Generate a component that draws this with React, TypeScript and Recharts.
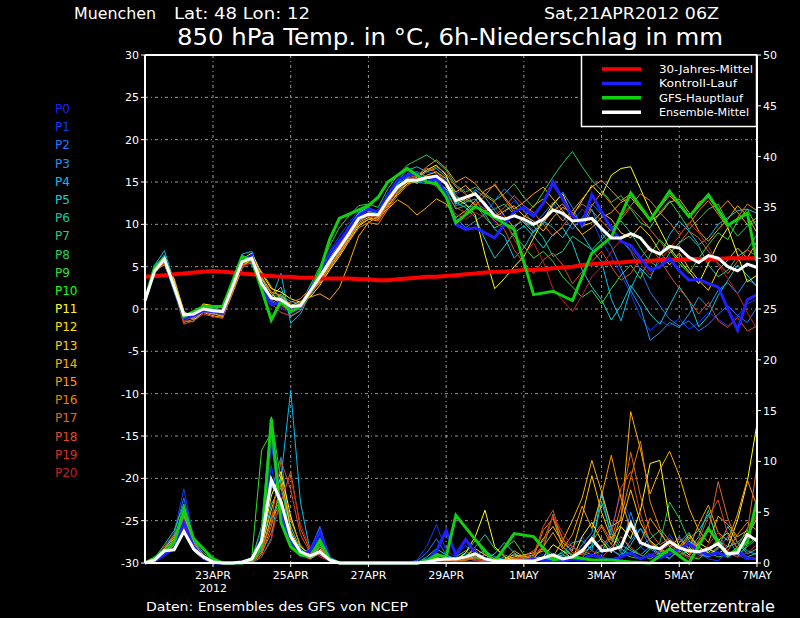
import { ComposedChart, Line, XAxis, YAxis, CartesianGrid, ReferenceLine } from "recharts";

// lead time in hours after 21APR2012 00Z, one point every 6h
const leadHours = [
  6, 12, 18, 24, 30, 36, 42, 48, 54, 60, 66, 72, 78, 84, 90, 96,
  102, 108, 114, 120, 126, 132, 138, 144, 150, 156, 162, 168, 174, 180, 186, 192,
  198, 204, 210, 216, 222, 228, 234, 240, 246, 252, 258, 264, 270, 276, 282, 288,
  294, 300, 306, 312, 318, 324, 330, 336, 342, 348, 354, 360, 366, 372, 378, 384,
];
const dayTicks = [48, 96, 144, 192, 240, 288, 336, 384];
const dayLabels = ["23APR", "25APR", "27APR", "29APR", "1MAY", "3MAY", "5MAY", "7MAY"];
const tempTicks = [-30, -25, -20, -15, -10, -5, 0, 5, 10, 15, 20, 25, 30];
const rainTicks = [0, 5, 10, 15, 20, 25, 30, 35, 40, 45, 50];

const memberNames = ["P0", "P1", "P2", "P3", "P4", "P5", "P6", "P7", "P8", "P9", "P10",
  "P11", "P12", "P13", "P14", "P15", "P16", "P17", "P18", "P19", "P20"];
const memberColors = ["#2020ff", "#0a3cff", "#1e78ff", "#1e96f0", "#00c0f0", "#10d0d0", "#10d096",
  "#20d070", "#20d050", "#30e030", "#10ff10", "#ffff10", "#ffe000", "#ffc800", "#ffb000",
  "#ff9800", "#f08000", "#e06820", "#e04a28", "#d83020", "#c82020"];

// 850 hPa temperature
const tMean = [
  1.0, 4.5, 5.9, 2.6, -0.7, -0.6, 0.0, -0.2, -0.3, 2.6, 5.6, 6.0, 3.0, 1.3, 1.1, 0.3,
  0.4, 2.1, 3.8, 5.6, 7.2, 8.9, 10.7, 11.2, 11.1, 12.9, 14.4, 15.2, 15.2, 15.5, 15.7, 14.8,
  12.8, 13.2, 13.6, 12.3, 11.0, 10.6, 11.0, 10.6, 10.0, 10.6, 11.7, 11.3, 10.4, 10.5, 10.7, 9.5,
  8.4, 8.4, 8.9, 8.4, 7.0, 6.5, 7.4, 7.2, 6.1, 5.5, 6.3, 6.0, 5.0, 4.5, 5.3, 4.9,
];
const tCtrl = [
  1.0, 4.8, 6.0, 2.4, -1.0, -0.8, -0.2, -0.3, -0.5, 2.8, 5.8, 6.3, 2.5, 0.5, 0.8, -0.2,
  0.2, 2.3, 4.3, 6.5, 8.0, 9.5, 11.0, 11.8, 11.5, 13.5, 15.2, 15.8, 16.0, 15.0, 15.5, 13.5,
  10.0, 9.4, 9.6, 9.0, 8.4, 10.0, 11.5, 12.0, 11.0, 12.5, 15.0, 13.0, 11.0, 10.0, 13.5, 11.5,
  9.5, 8.0, 7.5, 6.0, 4.6, 5.0, 6.0, 4.5, 3.4, 3.5, 3.0, 2.6, 0.0, -2.5, 1.1, 1.7,
];
// main run goes to 12h steps after day 8
const tGfs = [
  1.0, 5.0, 6.0, 2.6, -0.9, -0.3, 0.3, 0.3, 0.3, 3.2, 6.2, 5.8, 2.3, -1.3, 0.9, -0.3,
  0.3, 2.0, 4.5, 8.2, 10.7, 11.2, 11.7, 12.2, 13.2, 15.0, 15.8, 16.6, 15.8, 15.0, 14.8, 13.2,
  10.2, null, 12.1, null, 10.8, null, 9.4, null, 1.7, null, 2.1, null, 1.0, null, 6.6, null,
  8.5, null, 13.7, null, 10.5, null, 13.9, null, 10.9, null, 13.5, null, 9.9, null, 11.3, 5.6,
];
const tClim = [
  3.8, 3.9, 4.0, 4.1, 4.2, 4.3, 4.4, 4.5, 4.4, 4.3, 4.2, 4.1, 4.0, 3.9, 3.8, 3.8,
  3.7, 3.7, 3.6, 3.6, 3.6, 3.6, 3.5, 3.5, 3.4, 3.4, 3.5, 3.6, 3.7, 3.8, 3.8, 3.9,
  4.0, 4.1, 4.2, 4.3, 4.4, 4.4, 4.5, 4.6, 4.6, 4.7, 4.8, 4.9, 5.0, 5.2, 5.3, 5.4,
  5.5, 5.5, 5.6, 5.7, 5.7, 5.8, 5.8, 5.8, 5.9, 5.9, 5.9, 5.9, 6.0, 6.0, 6.0, 6.0,
];

const tP1 = [
  1.0, 4.8, 6.2, 2.2, -1.2, -1.0, -0.3, -0.6, -0.8, 2.2, 5.4, 6.3, 3.4, 0.8, 0.2, -0.6,
  0.1, 2.5, 4.6, 6.8, 8.6, 10.2, 11.6, 11.9, 11.4, 13.2, 15.0, 15.8, 15.6, 16.2, 16.0, 15.2,
  13.6, 14.2, 13.8, 12.0, 10.2, 11.4, 12.8, 11.6, 10.8, 12.4, 14.6, 12.9, 10.2, 11.8, 10.6, 8.0,
  6.2, 4.1, 1.8, -0.9, -2.6, -1.4, -2.0, -1.1, -2.4, -1.6, -0.4, -1.2, -2.0, -0.8, 0.6, 1.2,
];
const tP2 = [
  1.0, 4.6, 6.0, 2.5, -0.9, -1.2, -0.4, -0.2, -0.8, 2.1, 5.3, 6.1, 3.1, 0.9, 0.5, -0.3,
  0.3, 2.6, 4.4, 6.4, 8.0, 9.8, 11.4, 11.6, 11.2, 13.0, 14.8, 15.6, 15.2, 15.0, 14.6, 13.8,
  10.8, 9.6, 10.4, 11.2, 12.8, 14.2, 13.0, 11.6, 10.0, 11.2, 12.6, 11.0, 9.4, 10.8, 12.4, 11.2,
  9.6, 8.2, 6.8, 4.6, 2.0, 0.4, -1.2, -2.0, -1.4, -2.6, -1.8, -0.6, 0.4, -0.8, -1.6, 0.2,
];
const tP3 = [
  1.0, 4.4, 5.6, 3.0, -0.4, -0.9, 0.4, 0.1, -0.6, 2.9, 6.1, 5.2, 2.4, 1.6, 1.5, 0.9,
  0.6, 1.6, 3.2, 5.0, 6.8, 8.5, 10.4, 11.0, 11.6, 12.6, 14.0, 14.8, 15.0, 14.8, 15.4, 15.0,
  12.2, 12.6, 14.1, 13.2, 11.6, 10.0, 9.8, 10.4, 9.2, 10.0, 12.2, 13.8, 12.0, 9.6, 11.8, 9.0,
  7.4, 4.8, 2.2, 0.2, -3.7, -2.8, -1.6, -2.2, -0.6, 1.4, 0.2, 2.2, 3.1, 1.8, 3.5, 2.8,
];
const tP4 = [
  1.0, 5.2, 6.9, 3.2, -1.4, -1.5, -0.2, -0.4, -0.1, 3.4, 6.5, 6.8, 3.8, 1.2, 4.2, -1.7,
  -0.6, 1.8, 3.6, 5.2, 7.4, 9.2, 11.2, 11.8, 11.2, 13.4, 15.2, 16.4, 16.8, 16.2, 16.6, 15.6,
  13.4, 12.6, 13.0, 11.2, 9.4, 8.6, 6.0, 7.2, 9.2, 10.4, 9.6, 8.4, 10.2, 8.8, 7.0, 5.6,
  1.2, -1.4, 2.4, 4.8, 3.6, 6.2, 8.8, 10.4, 9.2, 7.6, 8.4, 10.0, 10.8, 11.6, 11.8, 11.3,
];
const tP5 = [
  1.0, 4.9, 6.4, 2.6, -1.1, -0.8, 0.1, -0.2, -0.4, 2.8, 5.8, 6.0, 3.2, 1.4, 2.6, -0.9,
  -0.2, 2.0, 3.8, 5.8, 7.6, 9.4, 11.4, 12.0, 11.4, 13.0, 14.8, 16.0, 16.2, 15.6, 15.0, 14.2,
  12.6, 12.0, 10.8, 8.2, 6.0, 7.4, 9.0, 9.8, 8.6, 7.2, 8.8, 9.6, 7.8, 4.6, 2.6, 1.1,
  -1.3, 0.4, 2.8, 1.2, -0.6, -1.8, 0.4, 2.6, 1.0, -2.1, -0.8, 1.6, 3.4, 5.2, 4.0, 2.6,
];
const tP6 = [
  1.0, 4.6, 5.8, 2.4, -0.8, -0.5, 0.2, -0.1, -0.4, 2.4, 5.2, 5.8, 3.2, 1.0, 1.4, 0.6,
  0.2, 2.2, 4.0, 6.0, 7.8, 9.4, 11.2, 11.6, 11.0, 13.0, 14.6, 15.4, 14.8, 15.6, 15.2, 14.0,
  11.8, 12.2, 12.0, 11.6, 11.8, 12.4, 11.2, 10.2, 9.8, 8.4, 6.2, 6.8, 8.6, 7.8, 7.0, 8.2,
  9.6, 10.4, 9.0, 7.2, 5.6, 4.8, 6.6, 7.8, 8.6, 7.4, 5.2, 3.8, 4.6, 6.2, 7.0, 8.8,
];
const tP8 = [
  1.0, 4.9, 6.1, 2.8, -0.6, -0.4, 0.1, 0.2, -0.2, 3.0, 6.0, 6.2, 2.8, 0.6, 0.9, -0.2,
  0.5, 2.8, 5.0, 7.4, 9.6, 11.0, 12.2, 12.4, 12.0, 14.2, 15.8, 17.0, 17.6, 18.2, 17.4, 16.4,
  14.6, 13.8, 14.4, 13.6, 12.8, 13.6, 14.8, 13.2, 12.0, 13.8, 15.6, 17.2, 18.6, 16.8, 15.2, 14.0,
  12.6, 13.4, 11.8, 10.2, 9.6, 11.4, 12.8, 11.2, 9.4, 10.6, 11.8, 12.4, 10.2, 8.6, 9.8, 10.4,
];
const tP9 = [
  1.0, 4.3, 5.4, 2.0, -1.0, -0.7, 0.3, 0.0, -0.5, 2.6, 5.5, 5.6, 2.2, 0.4, 1.8, 0.2,
  0.0, 1.9, 3.5, 5.4, 7.0, 8.6, 10.6, 11.4, 11.0, 12.4, 14.0, 15.6, 16.0, 15.4, 15.8, 14.6,
  12.4, 13.0, 12.4, 10.8, 9.6, 10.2, 8.6, 7.4, 6.0, 6.8, 5.6, 3.8, 2.6, 1.4, 2.2, 0.6,
  2.4, 4.0, 5.2, 3.6, 6.4, 8.2, 7.0, 5.4, 4.2, 6.0, 7.6, 9.0, 8.2, 10.4, 11.8, 9.6,
];
const tP11 = [
  1.0, 4.7, 5.5, 3.4, -0.3, -1.1, 0.6, 0.4, 0.2, 3.2, 5.9, 6.6, 4.2, 2.4, 2.0, 1.2,
  0.8, 1.4, 2.8, 4.6, 6.2, 8.0, 9.8, 10.6, 10.8, 12.2, 13.6, 14.8, 15.6, 16.4, 17.0, 15.8,
  13.0, 12.4, 11.1, 6.4, 2.4, 3.6, 5.0, 6.2, 8.4, 10.6, 12.4, 13.6, 11.0, 12.8, 14.6, 13.4,
  15.8, 16.6, 16.8, 14.2, 11.6, 9.4, 7.2, 5.8, 4.4, 3.0, 5.4, 7.8, 9.6, 6.4, 3.2, 4.0,
];
const tP13 = [
  1.0, 4.5, 5.7, 2.9, -0.5, -0.8, -0.1, -0.5, -0.9, 2.3, 5.0, 6.1, 3.6, 1.8, 0.8, 0.0,
  0.6, 2.0, 3.4, 5.2, 6.6, 8.2, 10.2, 10.8, 10.6, 12.4, 14.2, 15.0, 15.0, 15.8, 16.2, 15.4,
  13.8, 14.6, 13.4, 12.6, 10.8, 11.6, 12.2, 11.0, 10.4, 9.2, 10.8, 12.0, 11.4, 9.8, 10.2, 11.4,
  10.6, 9.0, 8.4, 9.8, 8.6, 6.8, 5.2, 6.6, 4.8, 3.4, 2.2, 4.6, 5.8, 7.2, 6.0, 8.0,
];
const tP14 = [
  1.0, 4.4, 5.9, 3.6, -0.2, -1.3, -0.4, -0.8, -1.0, 1.8, 4.8, 6.0, 4.4, 2.6, 1.2, 0.4,
  0.9, 1.4, 1.8, 1.1, 2.5, 5.4, 8.6, 10.2, 11.0, 11.8, 12.9, 12.2, 11.1, 12.0, 13.0, 12.4,
  10.8, 11.6, 12.8, 14.0, 14.6, 13.2, 11.8, 12.6, 13.6, 14.4, 13.0, 11.6, 10.2, 8.8, 9.6, 10.8,
  11.4, 12.6, 13.2, 11.8, 10.4, 11.2, 12.6, 13.0, 11.4, 9.2, 8.0, 9.4, 10.6, 12.2, 11.0, 9.0,
];
const tP15 = [
  1.0, 4.7, 6.0, 3.1, -0.6, -0.9, -0.3, -0.6, -0.4, 2.5, 5.4, 6.2, 3.8, 2.0, 1.6, 0.4,
  0.3, 1.7, 3.3, 4.9, 6.5, 8.4, 10.0, 10.6, 10.4, 12.0, 13.8, 15.0, 15.6, 16.8, 17.6, 16.6,
  15.0, 15.6, 14.8, 13.4, 12.6, 11.0, 9.6, 10.8, 12.2, 13.0, 11.8, 10.4, 11.6, 13.0, 14.4, 15.2,
  14.0, 12.8, 13.6, 12.0, 10.6, 12.0, 13.4, 12.2, 10.8, 12.6, 13.2, 11.6, 12.8, 11.4, 10.0, 10.8,
];
const tP16 = [
  1.0, 4.6, 5.2, 2.4, -1.6, -1.2, 0.0, -0.3, -0.7, 2.0, 5.2, 5.4, 2.6, 1.4, 0.6, 0.8,
  1.2, 2.4, 3.0, 4.8, 6.4, 8.0, 9.6, 10.2, 10.0, 11.8, 13.4, 14.6, 15.4, 16.2, 16.8, 16.0,
  14.4, 13.6, 12.2, 13.4, 14.8, 13.0, 11.4, 10.2, 9.0, 10.2, 11.6, 12.4, 11.0, 10.0, 12.2, 13.8,
  12.4, 11.0, 12.2, 13.6, 12.8, 11.4, 10.2, 8.8, 10.0, 11.6, 12.8, 11.2, 9.6, 10.8, 12.4, 11.6,
];
const tP17 = [
  1.0, 4.3, 5.5, 2.7, -1.0, -0.6, 0.2, -0.2, -0.5, 2.7, 5.7, 5.5, 2.6, 1.2, 0.9, 0.2,
  -0.1, 1.8, 3.2, 5.0, 6.8, 8.6, 10.4, 11.0, 10.8, 12.6, 14.2, 15.4, 15.8, 16.6, 16.2, 15.0,
  13.2, 12.8, 13.6, 12.4, 11.0, 12.0, 13.4, 12.2, 11.4, 10.0, 8.6, 9.8, 11.2, 12.4, 11.6, 10.4,
  9.2, 10.6, 12.0, 10.8, 9.4, 8.0, 6.6, 7.8, 9.2, 8.4, 6.8, 5.4, 4.2, 5.6, 7.0, 6.2,
];
const tP18 = [
  1.0, 4.2, 5.6, 2.2, -1.8, -1.4, -0.6, -0.9, -1.1, 2.2, 5.6, 5.9, 2.9, 0.6, -0.4, -0.8,
  -0.2, 1.6, 3.6, 5.6, 7.4, 9.0, 10.8, 11.0, 10.4, 12.4, 14.0, 15.2, 15.8, 15.0, 14.6, 13.6,
  12.0, 11.4, 12.6, 11.8, 10.4, 9.4, 7.0, 5.4, 4.2, 5.8, 6.6, 5.2, 3.0, 4.4, 5.6, 6.8,
  5.0, 3.4, 4.2, 6.0, 7.4, 5.8, 4.0, 2.4, 1.0, -0.6, 0.8, -1.4, -2.2, -1.0, -2.6, -2.0,
];
const tP20 = [
  1.0, 4.4, 5.8, 2.6, -1.4, -0.9, -0.2, -0.4, -0.6, 2.4, 5.0, 5.6, 3.0, 1.0, 0.4, -0.4,
  0.2, 2.0, 3.9, 5.8, 7.6, 9.2, 11.0, 11.4, 11.0, 12.8, 14.4, 15.6, 15.4, 15.2, 14.4, 13.2,
  11.2, 10.6, 11.4, 10.8, 12.0, 10.6, 8.2, 6.4, 7.8, 5.6, 2.4, 1.0, -0.3, 1.6, 3.8, 5.0,
  6.8, 8.2, 7.0, 5.4, 4.0, 5.6, 7.2, 8.6, 10.2, 9.0, 7.4, 5.2, 3.6, 1.8, -0.4, -2.4,
];

// 6h precipitation (mm)
const rMean = [
  0, 0.3, 1.2, 1.3, 3.1, 1.4, 0.6, 0.1, 0, 0, 0.1, 0.4, 2.2, 8.2, 6.0, 2.6,
  1.1, 0.7, 1.1, 0.3, 0, 0, 0, 0, 0, 0, 0, 0, 0, 0.1, 0.3, 0.4,
  0.4, 0.6, 0.9, 0.4, 0.2, 0.2, 0.2, 0.2, 0.2, 0.5, 0.8, 0.4, 0.6, 1.2, 2.4, 1.2,
  1.3, 1.6, 3.9, 2.0, 1.6, 1.4, 2.1, 1.5, 1.2, 1.1, 1.4, 1.9, 0.9, 1.0, 2.8, 2.2,
];
const rCtrl = [
  0, 0.2, 0.8, 1.5, 4.0, 1.6, 0.5, 0, 0, 0, 0, 0.2, 2.0, 13.4, 5.0, 2.0,
  0.8, 1.2, 3.1, 0.5, 0, 0, 0, 0, 0, 0, 0, 0, 0, 0.2, 1.2, 3.2,
  0.8, 2.3, 1.0, 0.4, 0.2, 0.1, 0, 0.2, 0.4, 0.3, 0.1, 0.2, 0.4, 0.3, 0.8, 0.5,
  0.3, 0.6, 1.0, 0.4, 0.8, 0.5, 0.9, 1.4, 1.9, 1.2, 0.8, 1.0, 0.6, 1.2, 0.5, 0.4,
];
const rGfs = [
  0, 0.5, 1.2, 2.0, 5.2, 2.4, 1.4, 0.4, 0, 0, 0, 0.2, 1.8, 14.2, 4.0, 1.6,
  0.8, 0.6, 2.2, 0.4, 0, 0, 0, 0, 0, 0, 0, 0, 0, 0.2, 0.8, 0.6,
  4.7, null, 2.3, null, 0.1, null, 2.9, null, 2.6, null, 0.3, null, 0.6, null, 0.3, null,
  0.3, null, 0.1, null, 0.0, null, 1.4, null, 0.0, null, 3.4, null, 0.7, null, 2.0, 6.2,
];

const rP1 = [
  0, 0.3, 1.6, 3.0, 7.3, 2.4, 0.8, 0.2, 0, 0, 0, 0.3, 3.2, 9.6, 4.4, 1.8,
  0.6, 0.9, 2.6, 0.4, 0, 0, 0, 0, 0, 0, 0, 0, 0.3, 1.6, 3.8, 1.2,
  0.6, 1.8, 0.4, 0.2, 0.6, 0.3, 0, 0.2, 0.4, 0.9, 0.5, 0.3, 1.4, 2.6, 1.2, 0.8,
  3.4, 6.8, 4.2, 1.6, 0.8, 1.2, 2.8, 1.4, 0.6, 1.0, 0.4, 0.2, 1.2, 0.8, 0.3, 0.6,
];
const rP2 = [
  0, 0.3, 1.4, 2.8, 6.4, 2.2, 0.7, 0.1, 0, 0, 0, 0.2, 2.0, 11.8, 5.6, 2.0,
  0.8, 1.2, 3.6, 0.5, 0, 0, 0, 0, 0, 0, 0, 0, 0.2, 1.0, 2.4, 0.8,
  0.4, 0.6, 0.2, 0.1, 0.3, 0.2, 0.1, 0.2, 0.3, 0.5, 0.3, 0.8, 1.6, 1.0, 0.6, 1.8,
  1.2, 0.8, 2.2, 3.4, 1.6, 0.9, 1.4, 2.6, 1.4, 0.8, 0.6, 1.0, 0.8, 1.2, 0.6, 0.4,
];
const rP3 = [
  0, 0.4, 1.2, 2.4, 5.6, 2.0, 0.6, 0, 0, 0, 0, 0.2, 2.4, 7.2, 10.4, 3.0,
  1.0, 1.4, 3.4, 0.6, 0, 0, 0, 0, 0, 0, 0, 0, 0, 0.4, 1.0, 0.6,
  0.4, 0.9, 0.3, 0.1, 0.2, 0.6, 0.3, 0.1, 0.5, 1.6, 0.8, 0.6, 0.4, 1.8, 3.0, 6.8,
  2.4, 1.2, 5.0, 2.0, 1.4, 0.8, 0.5, 1.2, 2.2, 1.0, 0.6, 1.4, 2.6, 0.8, 1.6, 2.4,
];
const rP4 = [
  0, 0.2, 0.8, 1.6, 3.2, 1.2, 0.4, 0, 0, 0, 0, 0, 0.6, 2.4, 8.4, 17.0,
  6.0, 1.2, 0.8, 0.2, 0, 0, 0, 0, 0, 0, 0, 0, 0, 0.2, 0.6, 0.3,
  0.2, 0.4, 0.8, 1.2, 0.6, 0.3, 0.9, 0.4, 0.2, 0.3, 0.6, 1.0, 2.0, 2.2, 1.2, 7.0,
  3.4, 1.8, 1.2, 0.8, 1.6, 0.9, 0.4, 1.4, 2.4, 3.2, 4.8, 2.2, 1.6, 2.0, 1.2, 0.8,
];
const rP5 = [
  0, 0.3, 1.0, 2.2, 4.4, 1.6, 0.5, 0, 0, 0, 0, 0.1, 1.4, 5.8, 7.4, 3.6,
  1.4, 0.6, 1.6, 0.3, 0, 0, 0, 0, 0, 0, 0, 0, 0, 0.6, 1.4, 0.8,
  0.3, 0.2, 1.2, 0.4, 0.9, 2.0, 1.0, 0.4, 0.3, 0.2, 0.5, 0.8, 0.4, 1.0, 1.6, 2.4,
  1.4, 0.6, 1.8, 3.4, 2.2, 1.2, 0.8, 2.0, 3.0, 1.2, 0.7, 1.5, 3.6, 2.0, 0.9, 1.4,
];
const rP6 = [
  0, 0.4, 1.4, 2.6, 4.0, 1.8, 0.6, 0.2, 0, 0, 0, 0.2, 1.0, 4.6, 6.2, 2.8,
  1.0, 0.5, 1.2, 0.2, 0, 0, 0, 0, 0, 0, 0, 0, 0, 0.3, 0.8, 0.4,
  0.2, 0.6, 1.6, 2.8, 1.4, 0.8, 0.4, 0.2, 0.6, 0.4, 0.3, 1.2, 0.8, 0.5, 1.8, 6.0,
  3.0, 1.4, 0.8, 1.6, 2.4, 3.2, 1.6, 0.8, 1.2, 2.6, 5.2, 1.8, 0.9, 1.4, 0.6, 1.0,
];
const rP8 = [
  0, 0.5, 1.8, 3.2, 5.8, 2.2, 1.0, 0.3, 0, 0, 0, 0.4, 3.6, 14.4, 8.0, 2.2,
  0.8, 0.6, 1.8, 0.4, 0, 0, 0, 0, 0, 0, 0, 0, 0.1, 0.4, 0.9, 0.5,
  0.3, 1.0, 2.2, 0.8, 0.4, 0.2, 0.1, 0.3, 0.8, 1.4, 4.8, 1.6, 0.6, 0.3, 0.8, 1.2,
  2.6, 1.0, 0.6, 0.4, 1.4, 2.0, 6.0, 4.4, 2.2, 1.4, 1.0, 0.6, 0.8, 1.6, 3.4, 4.6,
];
const rP9 = [
  0, 0.3, 1.0, 2.0, 4.6, 1.8, 0.8, 0.2, 0, 0, 0, 0.6, 11.1, 12.8, 5.4, 2.2,
  1.0, 0.4, 1.0, 0.2, 0, 0, 0, 0, 0, 0, 0, 0, 0, 0.3, 0.5, 0.2,
  0.6, 1.2, 0.5, 0.2, 0.4, 1.4, 2.2, 0.8, 0.3, 0.6, 0.4, 0.2, 0.6, 1.2, 0.8, 0.5,
  1.6, 2.6, 1.4, 0.8, 0.4, 1.0, 2.2, 1.2, 0.6, 0.4, 1.2, 2.4, 1.0, 0.6, 1.8, 2.6,
];
const rP11 = [
  0, 0.2, 0.9, 1.8, 3.0, 1.2, 0.4, 0, 0, 0, 0, 0.3, 1.8, 6.6, 9.0, 4.6,
  1.6, 0.8, 2.0, 0.3, 0, 0, 0, 0, 0, 0, 0, 0, 0, 0.1, 0.4, 0.2,
  0.3, 1.0, 2.6, 5.2, 1.6, 0.6, 0.3, 0.2, 0.4, 0.6, 1.8, 1.2, 0.4, 2.6, 4.0, 2.2,
  1.0, 3.6, 2.4, 5.2, 9.8, 10.1, 4.2, 1.6, 0.8, 2.0, 1.4, 0.9, 1.6, 4.2, 8.0, 13.7,
];
const rP13 = [
  0, 0.3, 1.2, 2.4, 3.8, 1.6, 0.6, 0.1, 0, 0, 0, 0.2, 1.6, 5.2, 8.6, 3.2,
  1.2, 0.6, 1.4, 0.3, 0, 0, 0, 0, 0, 0, 0, 0, 0, 0.2, 0.5, 0.3,
  0.2, 0.6, 1.4, 0.8, 0.4, 0.3, 0.6, 0.8, 1.0, 2.4, 3.6, 2.0, 1.2, 4.6, 8.6, 5.0,
  2.4, 3.8, 7.2, 4.0, 2.2, 1.4, 0.9, 1.6, 2.8, 1.6, 1.0, 2.2, 3.0, 1.4, 2.6, 4.4,
];
const rP14 = [
  0, 0.4, 1.4, 2.6, 4.8, 2.0, 0.7, 0.1, 0, 0, 0, 0.3, 2.0, 7.6, 6.4, 2.6,
  1.0, 0.7, 1.6, 0.4, 0, 0, 0, 0, 0, 0, 0, 0, 0, 0.2, 0.3, 0.1,
  0.2, 0.4, 0.6, 0.3, 0.2, 0.4, 0.8, 0.6, 0.8, 1.2, 0.6, 2.2, 4.2, 6.4, 10.1, 7.0,
  3.6, 4.2, 14.9, 11.2, 6.8, 9.2, 11.0, 8.6, 5.4, 3.2, 2.0, 4.6, 3.8, 2.6, 3.2, 2.0,
];
const rP15 = [
  0, 0.2, 0.8, 1.6, 3.4, 1.4, 0.5, 0, 0, 0, 0, 0.2, 1.2, 4.4, 5.8, 2.4,
  0.8, 0.4, 1.0, 0.2, 0, 0, 0, 0, 0, 0, 0, 0, 0, 0.1, 0.2, 0.4,
  0.2, 0.5, 0.9, 0.4, 0.2, 0.3, 1.2, 0.6, 0.4, 1.6, 3.0, 1.4, 2.8, 5.6, 3.4, 6.6,
  10.6, 6.4, 3.2, 2.0, 4.4, 3.0, 1.6, 2.4, 1.4, 3.8, 5.7, 3.0, 2.2, 4.8, 8.2, 5.6,
];
const rP16 = [
  0, 0.3, 1.0, 2.2, 4.2, 1.7, 0.6, 0.1, 0, 0, 0, 0.1, 0.8, 3.6, 7.8, 4.2,
  1.8, 0.6, 1.2, 0.3, 0, 0, 0, 0, 0, 0, 0, 0, 0, 0.2, 0.4, 0.2,
  0.1, 0.3, 0.5, 0.8, 0.4, 0.2, 0.5, 0.3, 0.6, 3.2, 4.4, 1.6, 0.8, 1.4, 2.0, 3.6,
  1.8, 4.6, 8.4, 12.0, 6.0, 3.4, 2.2, 1.4, 2.6, 1.2, 0.8, 1.6, 1.2, 2.8, 4.0, 3.2,
];
const rP17 = [
  0, 0.2, 0.9, 2.0, 3.6, 1.5, 0.5, 0, 0, 0, 0, 0.2, 1.0, 3.0, 6.0, 9.0,
  3.4, 1.2, 0.8, 0.2, 0, 0, 0, 0, 0, 0, 0, 0, 0, 0.2, 0.3, 0.2,
  0.1, 0.2, 0.6, 0.4, 0.2, 0.3, 0.4, 0.7, 1.2, 2.2, 4.6, 2.4, 1.0, 0.8, 2.6, 3.8,
  2.2, 5.6, 10.9, 6.6, 3.0, 1.8, 2.4, 1.6, 1.0, 2.2, 3.2, 8.0, 4.4, 2.0, 3.0, 9.6,
];
const rP18 = [
  0, 0.4, 1.6, 2.8, 4.4, 1.9, 0.6, 0.1, 0, 0, 0, 0.3, 1.2, 4.0, 10.1, 7.2,
  2.8, 1.0, 1.6, 0.3, 0, 0, 0, 0, 0, 0, 0, 0, 0, 0.1, 0.2, 0.1,
  0.3, 0.4, 0.3, 0.2, 0.1, 0.2, 0.3, 0.5, 0.8, 3.6, 5.2, 2.2, 1.6, 1.0, 2.2, 1.6,
  2.8, 7.4, 9.0, 4.8, 2.0, 1.2, 1.8, 1.0, 0.6, 2.2, 4.6, 6.2, 2.8, 1.4, 2.2, 5.0,
];
const rP20 = [
  0, 0.3, 1.2, 2.2, 3.4, 1.4, 0.5, 0, 0, 0, 0, 0.1, 0.6, 2.2, 6.8, 8.4,
  3.8, 1.4, 0.6, 0.2, 0, 0, 0, 0, 0, 0, 0, 0, 0, 0.1, 0.2, 0.1,
  0.2, 0.1, 0.2, 0.4, 0.2, 0.1, 0.2, 0.3, 0.6, 1.8, 4.6, 3.0, 1.6, 0.8, 1.2, 0.6,
  1.4, 2.6, 1.6, 0.8, 0.6, 1.2, 2.0, 1.0, 0.4, 0.6, 1.8, 3.0, 1.2, 0.6, 1.0, 1.8,
];

const members = [
  { p: 1, t: tP1, r: rP1 }, { p: 2, t: tP2, r: rP2 }, { p: 3, t: tP3, r: rP3 },
  { p: 4, t: tP4, r: rP4 }, { p: 5, t: tP5, r: rP5 }, { p: 6, t: tP6, r: rP6 },
  { p: 8, t: tP8, r: rP8 }, { p: 9, t: tP9, r: rP9 }, { p: 11, t: tP11, r: rP11 },
  { p: 13, t: tP13, r: rP13 }, { p: 14, t: tP14, r: rP14 }, { p: 15, t: tP15, r: rP15 },
  { p: 16, t: tP16, r: rP16 }, { p: 17, t: tP17, r: rP17 }, { p: 18, t: tP18, r: rP18 },
  { p: 20, t: tP20, r: rP20 },
];

const rows = leadHours.map((h, i) => {
  const row: Record<string, number | null> = {
    h, tMean: tMean[i], tCtrl: tCtrl[i], tGfs: tGfs[i], tClim: tClim[i],
    rMean: rMean[i], rCtrl: rCtrl[i], rGfs: rGfs[i],
  };
  members.forEach((m) => {
    row["t" + m.p] = m.t[i];
    row["r" + m.p] = m.r[i];
  });
  return row;
});

const FONT = "DejaVu Sans, sans-serif";
const legendRows = [
  { label: "30-Jahres-Mittel", color: "#ff0000", w: 94 },
  { label: "Kontroll-Lauf", color: "#2020ff", w: 78 },
  { label: "GFS-Hauptlauf", color: "#10d010", w: 84 },
  { label: "Ensemble-Mittel", color: "#ffffff", w: 90 },
];

function DayTick(props: any) {
  const { x, y, payload } = props;
  const k = dayTicks.indexOf(payload.value);
  return (
    <g fontFamily={FONT} fontSize={11}>
      <text x={x} y={y + 10} textAnchor="middle" fill="#fff">{dayLabels[k]}</text>
      {k === 0 && <text x={x} y={y + 23} textAnchor="middle" fill="#fff">2012</text>}
    </g>
  );
}

export default function App() {
  const axisTick = { fill: "#fff", fontSize: 11, fontFamily: FONT };
  return (
    <div style={{ position: "fixed", left: 0, top: 0, width: 800, height: 618, background: "#000" }}>
      <ComposedChart width={800} height={618} data={rows} margin={{ top: 55, right: 3, bottom: 25, left: 105 }}>
        <CartesianGrid yAxisId="t" stroke="#9a9a9a" strokeDasharray="3 3 1 3" />
        <XAxis dataKey="h" type="number" domain={[6, 384]} ticks={dayTicks} interval={0} height={30}
          tick={<DayTick />} tickSize={4} tickLine={{ stroke: "#fff" }} axisLine={{ stroke: "#fff", strokeWidth: 2 }} />
        <YAxis yAxisId="t" domain={[-30, 30]} ticks={tempTicks} interval={0} width={40} tick={axisTick}
          tickSize={4} tickLine={{ stroke: "#fff" }} axisLine={{ stroke: "#fff", strokeWidth: 2 }} />
        <YAxis yAxisId="p" orientation="right" domain={[0, 50]} ticks={rainTicks} interval={0} width={40} tick={axisTick}
          tickSize={4} tickLine={{ stroke: "#fff" }} axisLine={{ stroke: "#fff", strokeWidth: 2 }} />
        <ReferenceLine yAxisId="t" y={30} stroke="#fff" strokeWidth={2} />
        {members.map((m) => (
          <Line key={"t" + m.p} yAxisId="t" dataKey={"t" + m.p} stroke={memberColors[m.p]} strokeWidth={1}
            dot={false} isAnimationActive={false} type="linear" />
        ))}
        {members.map((m) => (
          <Line key={"r" + m.p} yAxisId="p" dataKey={"r" + m.p} stroke={memberColors[m.p]} strokeWidth={1}
            dot={false} isAnimationActive={false} type="linear" />
        ))}
        <Line yAxisId="t" dataKey="tClim" stroke="#ff0000" strokeWidth={4} dot={false} isAnimationActive={false} type="linear" />
        <Line yAxisId="t" dataKey="tCtrl" stroke="#2020ff" strokeWidth={3} dot={false} isAnimationActive={false} type="linear" />
        <Line yAxisId="p" dataKey="rCtrl" stroke="#2020ff" strokeWidth={3} dot={false} isAnimationActive={false} type="linear" />
        <Line yAxisId="t" dataKey="tGfs" stroke="#10d010" strokeWidth={3} dot={false} connectNulls isAnimationActive={false} type="linear" />
        <Line yAxisId="p" dataKey="rGfs" stroke="#10d010" strokeWidth={3} dot={false} connectNulls isAnimationActive={false} type="linear" />
        <Line yAxisId="t" dataKey="tMean" stroke="#ffffff" strokeWidth={3} dot={false} isAnimationActive={false} type="linear" />
        <Line yAxisId="p" dataKey="rMean" stroke="#ffffff" strokeWidth={3} dot={false} isAnimationActive={false} type="linear" />
      </ComposedChart>
      <svg width={800} height={618} style={{ position: "absolute", left: 0, top: 0, pointerEvents: "none" }}
        fontFamily={FONT} fill="#fff">
        <text x={74} y={19} fontSize={15} textLength={82} lengthAdjust="spacingAndGlyphs">Muenchen</text>
        <text x={174} y={19} fontSize={15} textLength={136} lengthAdjust="spacingAndGlyphs">Lat: 48 Lon: 12</text>
        <text x={544} y={19} fontSize={15} textLength={175} lengthAdjust="spacingAndGlyphs">Sat,21APR2012 06Z</text>
        <text x={177} y={45} fontSize={23} textLength={546} lengthAdjust="spacingAndGlyphs">850 hPa Temp. in °C, 6h-Niederschlag in mm</text>
        {memberNames.map((n, k) => (
          <text key={n} x={55} y={113 + k * 18.2} fontSize={12} fill={memberColors[k]}>{n}</text>
        ))}
        <rect x={581.5} y={55} width={175} height={71.5} fill="#000" stroke="#fff" strokeWidth={1.5} />
        {legendRows.map((r, k) => (
          <g key={r.label}>
            <line x1={602} x2={641} y1={69 + k * 14.4} y2={69 + k * 14.4} stroke={r.color} strokeWidth={3.5} />
            <text x={659} y={73 + k * 14.4} fontSize={11} textLength={r.w} lengthAdjust="spacingAndGlyphs">{r.label}</text>
          </g>
        ))}
        <text x={146} y={611} fontSize={12} textLength={262} lengthAdjust="spacingAndGlyphs">Daten: Ensembles des GFS von NCEP</text>
        <text x={655} y={612} fontSize={16} textLength={120} lengthAdjust="spacingAndGlyphs">Wetterzentrale</text>
      </svg>
    </div>
  );
}
